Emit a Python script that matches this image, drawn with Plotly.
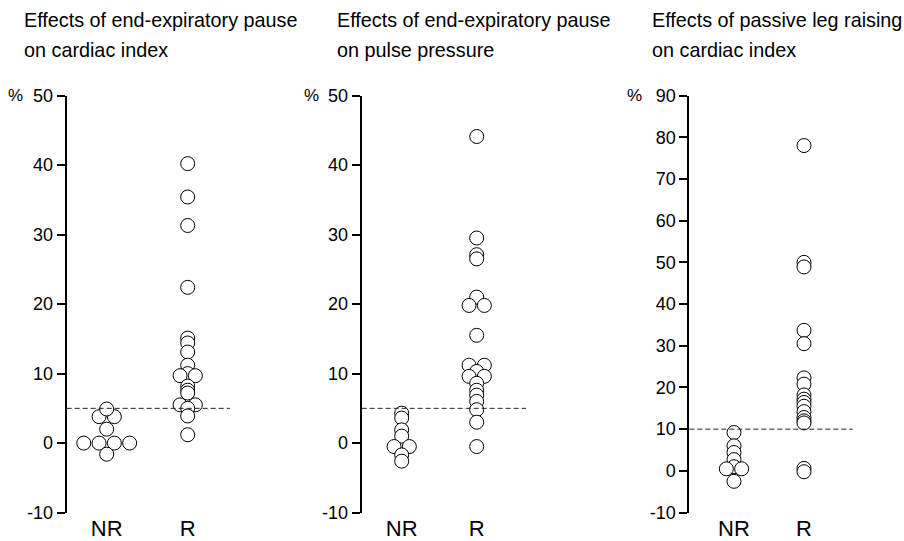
import plotly.graph_objects as go
from collections import defaultdict

# ---------------- data ----------------
groups = ["NR", "R"]

titles_line1 = ["Effects of end-expiratory pause",
                "Effects of end-expiratory pause",
                "Effects of passive leg raising"]
titles_line2 = ["on cardiac index", "on pulse pressure", "on cardiac index"]

p1_nr = [0, 0, 0, 0, -1.6, 2.0, 3.8, 3.8, 4.9]
p1_r = [40.2, 35.4, 31.3, 22.4, 15.1, 14.4, 13.1, 11.2, 10.0, 9.7, 9.7,
        8.2, 7.6, 7.2, 5.5, 5.5, 5.0, 3.9, 1.2]

p2_nr = [4.3, 3.6, 1.9, 1.0, -0.5, -0.5, -1.7, -2.6]
p2_r = [44.1, 29.5, 27.1, 26.5, 21.0, 19.8, 19.8, 15.5, 11.2, 11.2, 10.3,
        9.6, 9.6, 8.6, 7.6, 6.9, 6.0, 4.8, 3.0, -0.5]

p3_nr = [9.2, 6.0, 4.4, 2.7, 1.0, 0.5, 0.5, -2.5]
p3_r = [78.0, 50.0, 48.9, 33.7, 30.5, 22.3, 20.8, 18.2, 17.2, 16.4, 15.5,
        14.2, 12.8, 12.0, 11.5, 0.6, -0.2]

thresholds = [5, 5, 10]
y_ticks = [[-10, 0, 10, 20, 30, 40, 50],
           [-10, 0, 10, 20, 30, 40, 50],
           [-10, 0, 10, 20, 30, 40, 50, 60, 70, 80, 90]]
y_ticktext = [[str(v) for v in t] for t in y_ticks]

# ---------------- layout geometry (pixels) ----------------
W, H = 904, 541
panels_px = [  # axis-left, NR center, R center, right end
    (66.7, 106.7, 187.7, 230.0),
    (361.7, 401.7, 476.7, 526.0),
    (689.3, 734.0, 804.0, 852.7),
]
title_x_px = [22, 335, 650]
title_y_px = [10, 42]
pct_x_px = [15, 311, 634]
y_top_px, y_bot_px = 90, 529
DOT_PX = 15.3
FONT = "Liberation Sans, Arial, sans-serif"
TITLE_SIZE = 19.8

data = [(p1_nr, p1_r), (p2_nr, p2_r), (p3_nr, p3_r)]

fig = go.Figure()


def swarm_offsets(vals):
    cnt = defaultdict(int)
    for v in vals:
        cnt[v] += 1
    idx = defaultdict(int)
    offs = []
    for v in vals:
        n = cnt[v]
        i = idx[v]
        idx[v] += 1
        offs.append(i - (n - 1) / 2)
    return offs


ydom = [1 - y_bot_px / H, 1 - y_top_px / H]

for k, ((nr, r), (left, nrx, rx, right)) in enumerate(zip(data, panels_px)):
    px_per_unit = rx - nrx
    xr = [1 - (nrx - left) / px_per_unit, 2 + (right - rx) / px_per_unit]
    sfx = "" if k == 0 else str(k + 1)
    for gi, vals in enumerate((nr, r)):
        offs = swarm_offsets(vals)
        xs = [gi + 1 + o * DOT_PX / px_per_unit for o in offs]
        fig.add_trace(go.Scatter(
            x=xs, y=vals, mode="markers",
            marker=dict(size=14, color="white",
                        line=dict(color="black", width=1)),
            xaxis="x" + sfx, yaxis="y" + sfx, showlegend=False,
            hoverinfo="y"))
    fig.update_layout(**{
        "xaxis" + sfx: dict(
            domain=[left / W, right / W], range=xr,
            anchor="y" + sfx, showline=False, showgrid=False,
            zeroline=False, ticks="", tickvals=[1, 2], ticktext=groups,
            tickfont=dict(size=22, color="black", family=FONT)),
        "yaxis" + sfx: dict(
            domain=ydom, range=[y_ticks[k][0], y_ticks[k][-1]],
            tickvals=y_ticks[k], ticktext=y_ticktext[k],
            anchor="x" + sfx, showline=True, linewidth=2, linecolor="black",
            ticks="outside", ticklen=8, tickwidth=2, tickcolor="black",
            showgrid=False, zeroline=False,
            tickfont=dict(size=18, color="black", family=FONT)),
    })
    fig.add_shape(type="line", xref="x" + sfx + " domain", yref="y" + sfx,
                  x0=0, x1=1, y0=thresholds[k], y1=thresholds[k],
                  line=dict(color="#222222", width=1, dash="5px,3px"))
    for line_text, ty in zip((titles_line1[k], titles_line2[k]), title_y_px):
        fig.add_annotation(x=title_x_px[k] / W, y=1 - ty / H, xref="paper",
                           yref="paper", xanchor="left", yanchor="middle",
                           text=line_text, showarrow=False,
                           font=dict(size=TITLE_SIZE, color="black",
                                     family=FONT))
    fig.add_annotation(x=pct_x_px[k] / W, y=1 - y_top_px / H, xref="paper",
                       yref="paper", xanchor="center", yanchor="middle",
                       text="%", showarrow=False,
                       font=dict(size=17, color="black", family=FONT))

fig.update_layout(width=W, height=H, margin=dict(l=0, r=0, t=0, b=0),
                  paper_bgcolor="white", plot_bgcolor="white")

fig.write_html(
    "out.html",
    config={"displayModeBar": False},
    post_script="document.body.style.margin='0px';"
                "document.body.style.overflow='hidden';",
)
